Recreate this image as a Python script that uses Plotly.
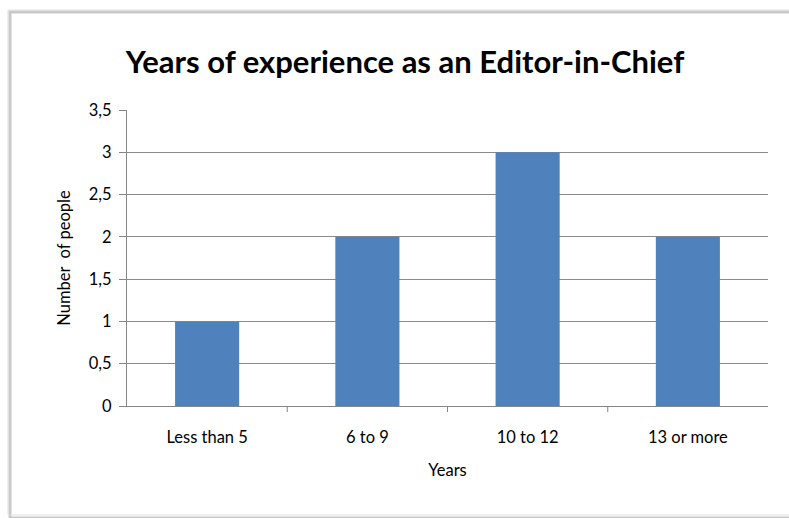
import plotly.graph_objects as go

categories = ["Less than 5", "6 to 9", "10 to 12", "13 or more"]
values = [1, 2, 3, 2]
tick_vals = [0, 0.5, 1, 1.5, 2, 2.5, 3, 3.5]
tick_text = ["0", "0,5", "1", "1,5", "2", "2,5", "3", "3,5"]

FONT = "Lato"
fig = go.Figure()
fig.add_trace(go.Bar(
    x=categories, y=values, width=0.4,
    marker=dict(color="#4F81BD", line=dict(width=0)),
))

W, H = 789, 518
L, R, T, B = 127, 21, 110, 112
pw, ph = W - L - R, H - T - B

def px(x):
    return (x - L) / pw

def py(y):
    return (H - B - y) / ph

fig.update_layout(
    width=W, height=H,
    margin=dict(l=L, r=R, t=T, b=B),
    paper_bgcolor="white", plot_bgcolor="white",
    showlegend=False,
    font=dict(family=FONT, color="#000000", size=16),
    title=dict(text="<b>Years of experience as an Editor-in-Chief</b>",
               xref="container", x=405 / W, xanchor="center",
               yref="container", y=1 - 62 / H, yanchor="middle",
               font=dict(family=FONT, size=31, color="#000000")),
    xaxis=dict(
        showgrid=False, showline=True, linecolor="#868686", linewidth=1,
        ticks="", tickfont=dict(size=16.5, family=FONT),
        ticklabelstandoff=16,
        title=dict(text="Years", font=dict(size=16.5, family=FONT), standoff=18),
        range=[-0.5, 3.5],
    ),
    yaxis=dict(
        range=[0, 3.5], tickvals=tick_vals, ticktext=tick_text,
        showgrid=True, gridcolor="#8a8a8a", gridwidth=1,
        showline=True, linecolor="#868686", linewidth=1,
        ticks="outside", ticklen=7, tickcolor="#868686",
        tickfont=dict(size=16.5, family=FONT),
        ticklabelstandoff=4,
        title=dict(text="Number  of people", font=dict(size=16.5, family=FONT), standoff=14),
        zeroline=False,
    ),
    bargap=0.6,
)

# x-axis tick marks between categories
for xb in [0.5, 1.5, 2.5]:
    fig.add_shape(type="line", xref="x", yref="paper", x0=xb, x1=xb, y0=0, y1=-6 / ph,
                  line=dict(color="#868686", width=1))

# chart frame with shadow
fig.add_shape(type="rect", xref="paper", yref="paper",
              x0=px(10), x1=px(792), y0=py(518), y1=py(12),
              line=dict(color="#c8c8c8", width=3), layer="below")
fig.add_shape(type="rect", xref="paper", yref="paper",
              x0=px(8), x1=px(790), y0=py(515), y1=py(10),
              line=dict(color="#e0e0e0", width=1), layer="below")

fig.write_html("out.html")
